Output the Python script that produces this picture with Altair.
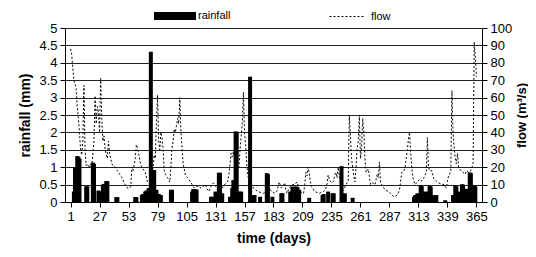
import altair as alt
import pandas as pd

# ---- data ----
rain_days = [4, 5, 6, 7, 8, 9, 15, 16, 21, 22, 26, 27, 30, 31, 33, 34, 42, 43, 59, 60,
             65, 66, 68, 69, 71, 73, 75, 76, 78, 80, 82, 91, 92, 110, 111, 113, 114,
             127, 128, 131, 134, 135, 137, 144, 146, 147, 149, 150, 152, 154,
             162, 165, 166, 171, 177, 178, 182, 190, 191, 198, 200, 201, 203, 204, 206,
             215, 227, 228, 232, 236, 237, 244, 247, 254,
             309, 310, 312, 315, 316, 319, 322, 323, 324, 326, 329,
             337, 344, 346, 347, 349, 352, 353, 356, 359, 360, 363, 364]
rain_mm = [0.3, 1.0, 1.0, 1.32, 1.3, 1.25, 0.45, 0.45, 1.13, 1.1, 0.33, 0.3, 0.5, 0.52, 0.6, 0.6, 0.14, 0.14, 0.14, 0.14,
           0.2, 0.23, 0.3, 0.33, 0.4, 4.32, 0.92, 0.92, 0.35, 0.23, 0.2, 0.35, 0.35, 0.3, 0.37, 0.37, 0.35,
           0.15, 0.15, 0.3, 0.84, 0.84, 0.25, 0.15, 0.4, 0.63, 2.03, 2.0, 0.3, 0.3,
           3.6, 0.2, 0.2, 0.15, 0.83, 0.8, 0.15, 0.25, 0.25, 0.3, 0.44, 0.44, 0.44, 0.44, 0.35,
           0.12, 0.2, 0.23, 0.3, 0.25, 0.25, 1.03, 0.25, 0.12,
           0.15, 0.2, 0.25, 0.49, 0.45, 0.3, 0.3, 0.46, 0.44, 0.2, 0.2,
           0.05, 0.2, 0.47, 0.45, 0.3, 0.51, 0.5, 0.38, 0.85, 0.83, 0.48, 0.45]

flow_days = [1, 2, 3, 4, 5, 6, 7, 8, 9, 10, 11, 12, 13, 14, 15, 16, 18, 19, 20, 22, 23, 24, 25, 26, 27,
             28, 29, 30, 31, 32, 34, 35, 36, 38, 39, 41, 43, 47, 50, 52, 54, 55, 56, 57, 58, 59, 60,
             61, 62, 64, 66, 68, 70, 72, 74, 75, 76, 77, 78, 79, 80, 81, 82, 83, 84, 85, 86, 88, 90,
             91, 92, 93, 94, 95, 96, 97, 98, 99, 100, 101, 102, 104, 106, 108, 110, 112, 114, 116,
             118, 120, 122, 123, 125, 127, 129, 131, 133, 135, 137, 139, 141, 142, 143, 144, 145,
             146, 147, 148, 149, 151, 152, 153, 154, 155, 156, 157, 158, 159, 160, 161, 163, 165,
             169, 174, 180, 184, 186, 188, 189, 190, 192, 193, 194, 195, 197, 200, 202, 204, 206,
             207, 210, 211, 212, 213, 214, 215, 216, 217, 220, 224, 228, 230, 231, 232, 233, 235,
             237, 238, 239, 240, 241, 242, 243, 244, 246, 248, 250, 251, 252, 253, 254, 255, 256,
             257, 258, 259, 260, 261, 262, 263, 264, 265, 266, 267, 268, 270, 272, 274, 276, 277,
             278, 279, 281, 283, 286, 288, 291, 294, 296, 298, 300, 301, 303, 304, 305, 306, 307,
             308, 310, 312, 314, 316, 318, 320, 321, 322, 323, 325, 326, 327, 329, 331, 333, 336,
             337, 338, 339, 340, 341, 342, 343, 344, 345, 346, 347, 348, 349, 351, 353, 355, 356,
             358, 360, 361, 362, 363, 364, 365]
flow_m3s = [88, 85, 77, 70, 68, 65, 55, 48, 40, 30, 27, 35, 67, 30, 21, 22, 19.5, 22, 20, 35, 61, 45, 55, 52, 40,
            71, 48, 35, 38, 30, 25, 35, 28, 22, 21, 20, 18, 14, 10, 8, 8, 9, 20, 18, 21, 25, 33,
            31, 28, 21, 19, 17, 11.5, 12, 16, 20, 27, 25, 45, 61.5, 35, 30, 40, 37, 30, 18, 16, 14, 11.5,
            20, 31, 35, 42, 40, 44, 48, 45, 60, 40, 31, 22, 15.5, 14, 12, 10, 8, 9, 9,
            8, 9, 10, 8, 6, 9, 11, 9, 8, 6, 8, 10, 11, 12, 16, 22, 28,
            26, 29, 25, 22, 20, 19.5, 30, 38, 45, 63, 40, 33, 22, 15, 13, 10, 8,
            6, 5, 7, 5, 6, 11.5, 10, 8, 10, 11, 7, 5, 8, 10, 10, 11.5, 8,
            6, 5, 10, 17, 15, 20, 17, 12, 9, 6, 5, 6, 8, 10.5, 15.5, 13, 11,
            12, 16, 17, 14, 20, 15, 10, 6, 7, 10, 12, 50, 38, 25, 20, 15, 11.5,
            20, 31, 35, 50, 25, 31, 48, 40, 25, 17, 18, 19, 10, 11, 10, 16, 14,
            23, 11, 9, 7, 6, 5, 3, 4, 7, 17, 18, 20, 30, 36, 40, 28, 20,
            14, 10, 11.5, 13, 12, 14, 17, 37, 20, 18, 18, 15, 13, 12, 11, 10.5, 10,
            9, 8, 12, 15, 16, 18, 64, 40, 31, 25, 22, 28, 20, 18, 17, 16, 18,
            17, 18, 20, 22, 92, 83, 72]

x_ticks = [1, 27, 53, 79, 105, 131, 157, 183, 209, 235, 261, 287, 313, 339, 365]
rain_ticks = [0, 0.5, 1, 1.5, 2, 2.5, 3, 3.5, 4, 4.5, 5]
flow_ticks = [0, 10, 20, 30, 40, 50, 60, 70, 80, 90, 100]

rain_df = pd.DataFrame({"day": rain_days, "rain": rain_mm, "s": "rainfall"})
flow_df = pd.DataFrame({"day": flow_days, "flow": flow_m3s, "s": "flow"})

FONT = "Liberation Sans"

x_enc = alt.X(
    "day:Q",
    scale=alt.Scale(domain=[0.5, 365.5], nice=False, zero=False),
    axis=alt.Axis(values=x_ticks, title="time (days)", grid=False, tickSize=5,
                  labelFontSize=13, titleFontSize=14, titleFontWeight="bold",
                  labelPadding=3, titlePadding=8, labelFlush=False),
)

bars = alt.Chart(rain_df).mark_bar(size=4).encode(
    x=x_enc,
    y=alt.Y("rain:Q", scale=alt.Scale(domain=[0, 5], nice=False),
            axis=alt.Axis(values=rain_ticks, format="~g", title="rainfall (mm)", orient="left",
                          grid=True, gridColor="#222", gridWidth=1, tickSize=5,
                          labelFontSize=13, titleFontSize=14, titleFontWeight="bold",
                          labelPadding=3, titlePadding=6)),
    color=alt.Color("s:N", scale=alt.Scale(range=["black"]),
                    legend=alt.Legend(orient="none", legendX=89, legendY=-33, title=None,
                                      symbolType="M-1,-0.19L1,-0.19L1,0.19L-1,0.19Z",
                                      symbolSize=1764, symbolStrokeWidth=0,
                                      labelFontSize=11, labelOffset=2, padding=0)),
)

line = alt.Chart(flow_df).mark_line(color="black", strokeWidth=1, interpolate="linear").encode(
    x=x_enc,
    y=alt.Y("flow:Q", scale=alt.Scale(domain=[0, 100], nice=False),
            axis=alt.Axis(values=flow_ticks, title="flow (m³/s)", orient="right",
                          grid=False, tickSize=5, titleAngle=270, titleBaseline="middle",
                          titleAlign="center", titleX=39, titleY=87,
                          labelFontSize=13, titleFontSize=13, titleFontWeight="bold",
                          labelPadding=3)),
    strokeDash=alt.StrokeDash("s:N", scale=alt.Scale(range=[[2, 2]]),
                              legend=alt.Legend(orient="none", legendX=264, legendY=-29, title=None,
                                                symbolType="stroke", symbolSize=1156,
                                                symbolStrokeColor="black", symbolStrokeWidth=1,
                                                labelFontSize=11, labelOffset=7, padding=0)),
)

chart = alt.layer(bars, line).resolve_scale(
    y="independent", color="independent", strokeDash="independent"
).properties(
    width=417, height=174,
    autosize=alt.AutoSizeParams(type="none"),
    padding={"left": 57, "top": 20, "right": 46, "bottom": 47},
).configure(
    font=FONT,
).configure_axis(
    domainColor="black", tickColor="black", labelColor="black", titleColor="black",
    labelFont=FONT, titleFont=FONT,
).configure_legend(
    labelFont=FONT, labelColor="black",
).configure_view(
    stroke=None,
)

chart.save("out.html", embed_options={"renderer": "svg", "actions": False})
